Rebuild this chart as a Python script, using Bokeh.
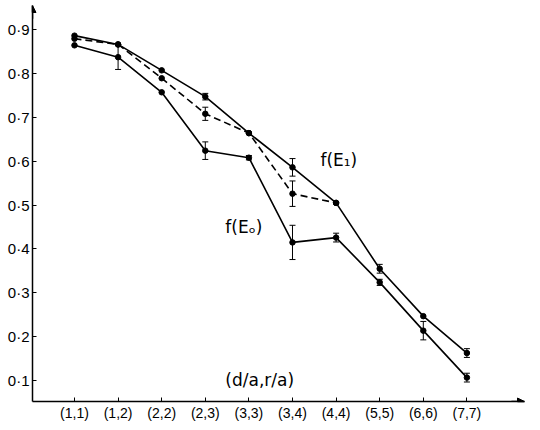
from bokeh.plotting import figure
from bokeh.models import (ColumnDataSource, Whisker, TeeHead, Label, Arrow,
                          NormalHead, FixedTicker, Range1d)
from bokeh.embed import file_html
from bokeh.resources import INLINE

# ---- data ----
categories = ["(1,1)", "(1,2)", "(2,2)", "(2,3)", "(3,3)",
              "(3,4)", "(4,4)", "(5,5)", "(6,6)", "(7,7)"]
f_e1 = [0.886, 0.866, 0.807, 0.747, 0.664, 0.586, 0.505, 0.355, 0.247, 0.163]
f_e1_err = [0.0, 0.0, 0.0, 0.0075, 0.0, 0.02, 0.0, 0.01, 0.0, 0.01]
f_dash = [0.879, 0.866, 0.789, 0.708, 0.664, 0.526, 0.505]
f_dash_err = [0.0, 0.0, 0.0, 0.015, 0.0, 0.029, 0.0]
f_e0 = [0.864, 0.837, 0.757, 0.624, 0.608, 0.415, 0.426, 0.324, 0.214, 0.107]
f_e0_err = [0.0, 0.028, 0.0, 0.02, 0.005, 0.039, 0.01, 0.007, 0.021, 0.01]
y_ticks = [0.1, 0.2, 0.3, 0.4, 0.5, 0.6, 0.7, 0.8, 0.9]
y_tick_labels = ["0·1", "0·2", "0·3", "0·4", "0·5", "0·6", "0·7", "0·8", "0·9"]

FONT = "Liberation Sans"
XS, XE = -0.963, 10.321
YS, YE = 0.0526, 0.9547

p = figure(width=540, height=430, output_backend="svg", toolbar_location=None,
           x_range=Range1d(XS, XE), y_range=Range1d(YS, YE),
           min_border_left=32, min_border_right=16, min_border_top=5,
           min_border_bottom=29)
p.outline_line_color = None
p.grid.grid_line_color = None
p.background_fill_color = "white"

xi = list(range(len(categories)))

def add_series(vals, errs, dash):
    x = xi[:len(vals)]
    p.line(x, vals, line_color="black", line_width=1.6, line_dash=dash)
    p.scatter(x, vals, size=5.5, color="black")
    ex = [x[i] for i in range(len(vals)) if errs[i] > 0]
    up = [vals[i] + errs[i] for i in range(len(vals)) if errs[i] > 0]
    lo = [vals[i] - errs[i] for i in range(len(vals)) if errs[i] > 0]
    src = ColumnDataSource(dict(x=ex, upper=up, lower=lo))
    w = Whisker(base="x", upper="upper", lower="lower", source=src,
                dimension="height", line_color="black", line_width=1,
                upper_head=TeeHead(size=6, line_color="black", line_width=1),
                lower_head=TeeHead(size=6, line_color="black", line_width=1))
    p.add_layout(w)

add_series(f_e1, f_e1_err, "solid")
add_series(f_dash, f_dash_err, "7 4")
add_series(f_e0, f_e0_err, "solid")

# axes
p.xaxis.ticker = FixedTicker(ticks=xi)
p.xaxis.major_label_overrides = {i: c for i, c in enumerate(categories)}
p.yaxis.ticker = FixedTicker(ticks=y_ticks)
p.yaxis.major_label_overrides = dict(zip(y_ticks, y_tick_labels))
for ax in (p.xaxis, p.yaxis):
    ax.axis_line_color = "black"
    ax.axis_line_width = 1.5
    ax.major_tick_in = 4
    ax.major_tick_out = 0
    ax.minor_tick_line_color = None
    ax.major_tick_line_color = "black"
    ax.major_label_text_font = FONT
    ax.major_label_text_color = "black"
p.xaxis.major_label_text_font_size = "14px"
p.yaxis.major_label_text_font_size = "15px"
p.xaxis.major_label_standoff = 3
p.yaxis.major_label_standoff = 3

p.add_layout(Arrow(end=NormalHead(size=7, fill_color="black", line_color="black"),
                   x_start=XS, y_start=YE - 0.03, x_end=XS, y_end=YE,
                   line_color="black", line_width=1.5))
p.add_layout(Arrow(end=NormalHead(size=7, fill_color="black", line_color="black"),
                   x_start=XE - 0.3, y_start=YS, x_end=XE, y_end=YS,
                   line_color="black", line_width=1.5))

for txt, x, y in [("f(E\u2081)", 5.64, 0.602), ("f(E\u2092)", 3.46, 0.449),
                  ("(d/a,r/a)", 3.46, 0.1005)]:
    p.add_layout(Label(x=x, y=y, text=txt, text_font="DejaVu Sans",
                       text_font_size="17px",
                       text_baseline="middle", text_align="left", text_color="black"))

open("out.html", "w").write(file_html(p, INLINE))
